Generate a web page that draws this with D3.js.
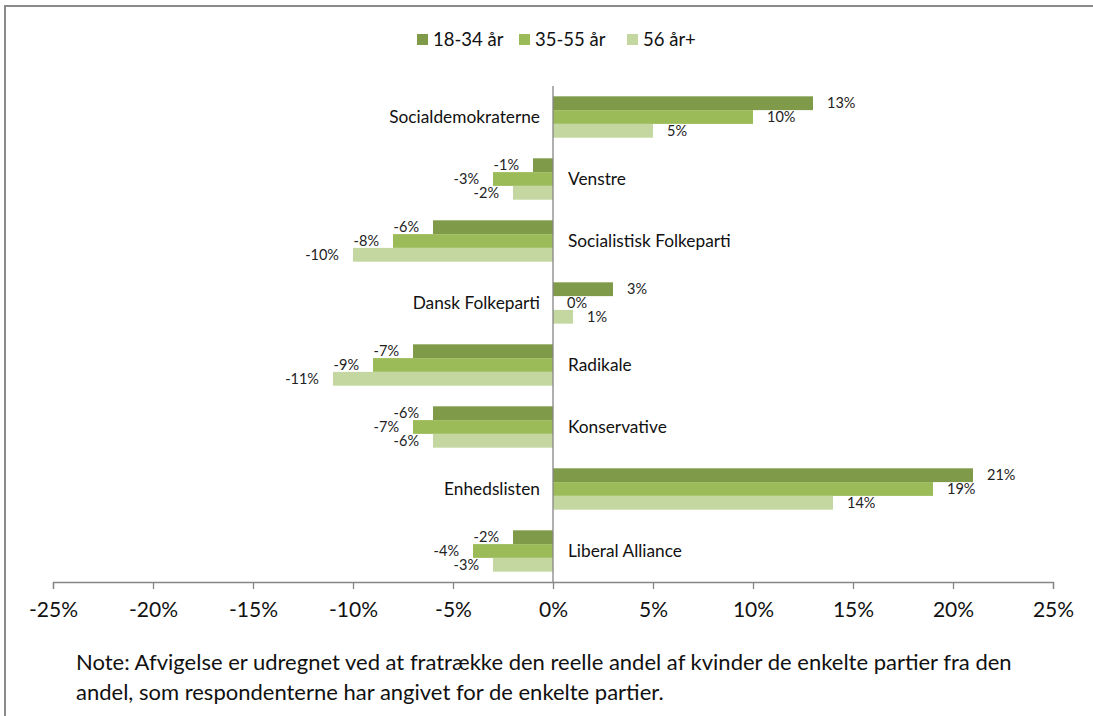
<!DOCTYPE html>
<html>
<head>
<meta charset="utf-8">
<script src="https://cdn.jsdelivr.net/npm/d3@7"></script>
<style>
  html, body { margin: 0; padding: 0; background: #fff; }
  svg { display: block; font-family: Lato, "Open Sans", sans-serif; }
</style>
</head>
<body>
<svg id="chart" width="1093" height="716"></svg>
<script>
const categories = ["Socialdemokraterne", "Venstre", "Socialistisk Folkeparti", "Dansk Folkeparti",
  "Radikale", "Konservative", "Enhedslisten", "Liberal Alliance"];
const seriesNames = ["18-34 år", "35-55 år", "56 år+"];
const s18_34 = [13, -1, -6, 3, -7, -6, 21, -2];
const s35_55 = [10, -3, -8, 0, -9, -7, 19, -4];
const s56 = [5, -2, -10, 1, -11, -6, 14, -3];
const tickValues = [-25, -20, -15, -10, -5, 0, 5, 10, 15, 20, 25];
const noteLines = [
  "Note: Afvigelse er udregnet ved at fratrække den reelle andel af kvinder de enkelte partier fra den",
  "andel, som respondenterne har angivet for de enkelte partier."
];
const colors = ["#7f9a48", "#9bbb59", "#c4d7a0"];

const series = [s18_34, s35_55, s56];
const svg = d3.select("#chart");

// frame (top and left edges visible)
svg.append("path").attr("d", "M5,716 L5,6 L1093,6")
  .attr("fill", "none").attr("stroke", "#8a8a8a").attr("stroke-width", 2);

const x = d3.scaleLinear().domain([-25, 25]).range([53, 1053]);
const y = d3.scaleBand().domain(categories).range([86, 582]).paddingInner(0.333).paddingOuter(0.1667);
const yInner = d3.scaleBand().domain(d3.range(3)).range([0, y.bandwidth()]);

const x0 = x(0);

// bars
series.forEach((vals, si) => {
  const g = svg.append("g");
  g.selectAll("rect").data(vals).enter().append("rect")
    .attr("x", d => Math.min(x(d), x0))
    .attr("width", d => Math.abs(x(d) - x0))
    .attr("y", (d, i) => y(categories[i]) + yInner(si))
    .attr("height", yInner.bandwidth())
    .attr("fill", colors[si]);
  g.selectAll("text").data(vals).enter().append("text")
    .attr("x", d => d >= 0 ? x(d) + 14 : x(d) - 14)
    .attr("y", (d, i) => y(categories[i]) + yInner(si) + yInner.bandwidth() / 2)
    .attr("dy", "0.35em")
    .attr("text-anchor", d => d >= 0 ? "start" : "end")
    .attr("font-size", 14.5)
    .attr("fill", "#222")
    .text(d => d + "%");
});

// zero line
svg.append("line").attr("x1", x0).attr("x2", x0).attr("y1", 86).attr("y2", 582)
  .attr("stroke", "#868686").attr("stroke-width", 1.3);

// category labels
svg.append("g").selectAll("text").data(categories).enter().append("text")
  .attr("x", (c, i) => s18_34[i] >= 0 ? x0 - 13 : x0 + 15)
  .attr("y", c => y(c) + y.bandwidth() / 2)
  .attr("dy", "0.35em")
  .attr("text-anchor", (c, i) => s18_34[i] >= 0 ? "end" : "start")
  .attr("font-size", 17.3)
  .attr("fill", "#111")
  .text(c => c);

// x axis
const axis = d3.axisBottom(x).tickValues(tickValues).tickSize(7).tickPadding(13)
  .tickFormat(d => d + "%");
const ga = svg.append("g").attr("transform", "translate(0,582)").call(axis);
ga.select(".domain").attr("stroke", "#868686").attr("stroke-width", 1.3);
ga.selectAll(".tick line").attr("stroke", "#868686").attr("stroke-width", 1.3);
ga.selectAll(".tick text").attr("font-size", 21).attr("fill", "#111")
  .attr("font-family", "Lato, 'Open Sans', sans-serif");

// legend
const legendX = [417, 519, 627];
const lg = svg.append("g");
seriesNames.forEach((n, i) => {
  lg.append("rect").attr("x", legendX[i]).attr("y", 34).attr("width", 11).attr("height", 11).attr("fill", colors[i]);
  lg.append("text").attr("x", legendX[i] + 16).attr("y", 39.5).attr("dy", "0.35em")
    .attr("font-size", 18.5).attr("fill", "#111").text(n);
});

// note
svg.append("g").selectAll("text").data(noteLines).enter().append("text")
  .attr("x", 76).attr("y", (d, i) => 670 + i * 30)
  .attr("font-size", 22).attr("fill", "#111").text(d => d);
</script>
</body>
</html>
